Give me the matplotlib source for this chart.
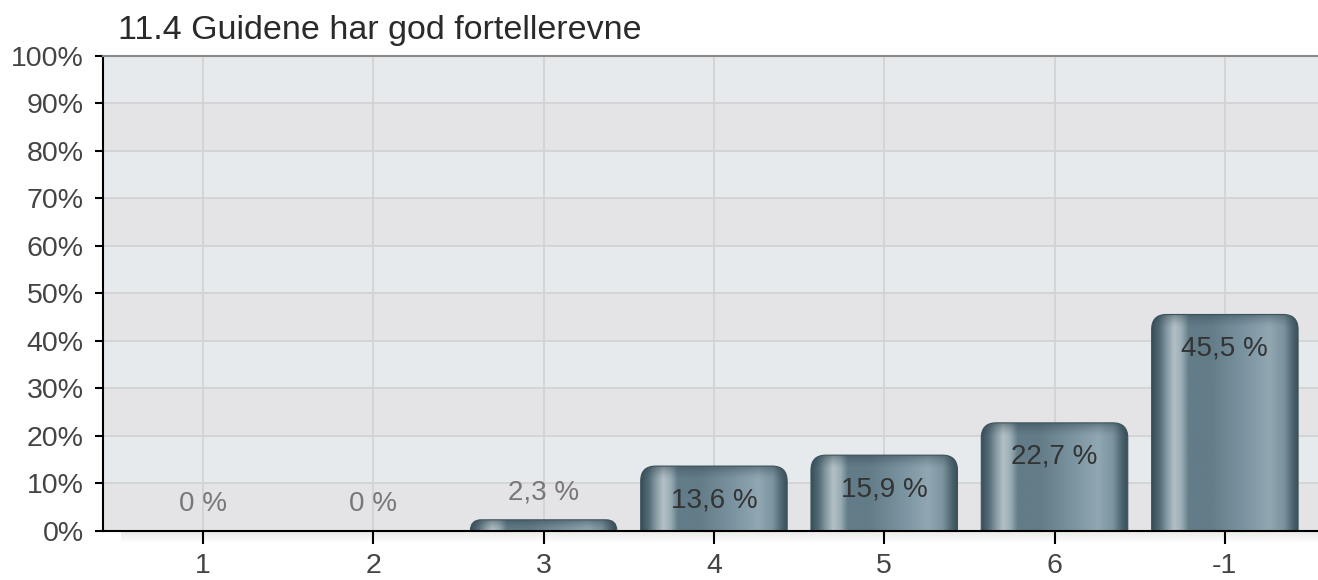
import numpy as np
import matplotlib
matplotlib.use('Agg')
import matplotlib.pyplot as plt
from matplotlib.path import Path
from matplotlib.patches import PathPatch
from matplotlib.colors import LinearSegmentedColormap, to_rgb

categories = ['1', '2', '3', '4', '5', '6', '-1']
values = [0, 0, 2.3, 13.6, 15.9, 22.7, 45.5]
value_labels = ['0 %', '0 %', '2,3 %', '13,6 %', '15,9 %', '22,7 %', '45,5 %']
title = '11.4 Guidene har god fortellerevne'
yticks = list(range(0, 101, 10))
ytick_labels = [f'{t}%' for t in yticks]

plt.rcParams['font.family'] = ['Liberation Sans', 'DejaVu Sans']

W, H = 1318, 580
fig = plt.figure(figsize=(W / 100, H / 100), dpi=100)
fig.patch.set_facecolor('white')
ax_left, ax_bottom_px, ax_top_px = 103, 530.7, 55.5
ax = fig.add_axes([ax_left / W, (H - ax_bottom_px) / H, 1 - ax_left / W,
                   (ax_bottom_px - ax_top_px) / H])

x = np.arange(len(categories))
XLIM = (-0.587, 6.547)
YLIM = (0, 100)

# alternating background bands
for i, (lo, hi) in enumerate(zip(yticks[:-1], yticks[1:])):
    ax.axhspan(lo, hi, color='#e4e4e6' if i % 2 == 0 else '#e7eaed', zorder=0, lw=0)

ax.set_axisbelow(True)
ax.grid(True, color='#d3d3d5', lw=1.3)

bars = ax.bar(x, values, width=0.86, color='none', edgecolor='none', zorder=2)

# cylinder-like gradient colormap
stops = [(0.00, '#394f58'), (0.05, '#526b76'), (0.10, '#8599a2'), (0.15, '#b4c1c6'),
         (0.20, '#9badb5'), (0.25, '#627c88'), (0.40, '#637c88'), (0.62, '#7a93a0'),
         (0.80, '#91a8b3'), (0.90, '#7b939f'), (0.96, '#4c646e'), (1.00, '#384e57')]
cmap = LinearSegmentedColormap.from_list('cyl', stops)
grad = np.linspace(0, 1, 256).reshape(1, -1)

px_per_x = (W - ax_left) / (XLIM[1] - XLIM[0])
px_per_y = (ax_bottom_px - ax_top_px) / (YLIM[1] - YLIM[0])
r_px = 15
for rect in bars:
    x0, w, h = rect.get_x(), rect.get_width(), rect.get_height()
    if h <= 0:
        continue
    ry = r_px / px_per_y
    rx = r_px / px_per_x
    if h < ry:
        rx = rx * max(0.65, h / ry)
        ry = h
    verts = [(x0, 0), (x0, h - ry), (x0, h), (x0 + rx, h), (x0 + w - rx, h),
             (x0 + w, h), (x0 + w, h - ry), (x0 + w, 0), (x0, 0)]
    codes = [Path.MOVETO, Path.LINETO, Path.CURVE3, Path.CURVE3, Path.LINETO,
             Path.CURVE3, Path.CURVE3, Path.LINETO, Path.CLOSEPOLY]
    patch = PathPatch(Path(verts, codes), facecolor='none', edgecolor='#3d535c',
                      lw=0.8, zorder=2.2)
    ax.add_patch(patch)
    im = ax.imshow(grad, cmap=cmap, extent=(x0, x0 + w, 0, h), aspect='auto',
                   interpolation='bicubic', zorder=2)
    im.set_clip_path(patch)
    # darker top cap
    cap_h = min(h, 14 / px_per_y)
    n = 64
    rgba = np.zeros((n, 1, 4))
    rgba[..., :3] = to_rgb('#2f444d')
    rgba[:, 0, 3] = np.linspace(0.6, 0.0, n) ** 1.5
    im2 = ax.imshow(rgba, extent=(x0, x0 + w, h - cap_h, h), aspect='auto',
                    interpolation='bilinear', zorder=2.1)
    im2.set_clip_path(patch)

# value labels
for xi, v, lab in zip(x, values, value_labels):
    if v >= 10:
        ax.annotate(lab, (xi, v), xytext=(0, -24.5), textcoords='offset points',
                    ha='center', va='center', fontsize=20, color='#333333', zorder=4)
    else:
        ax.annotate(lab, (xi, v), xytext=(0, 19.5), textcoords='offset points',
                    ha='center', va='center', fontsize=20, color='#777777', zorder=4)

# faint shadow under the x axis
sh = np.zeros((32, 1, 4))
sh[..., :3] = 0.75
sh[:, 0, 3] = np.linspace(0.35, 0.0, 32)
ax.imshow(sh, extent=(0.015, 1.0, -0.025, 0.0), transform=ax.transAxes,
          aspect='auto', clip_on=False, zorder=0.2)

ax.set_xlim(*XLIM)
ax.set_ylim(*YLIM)
ax.set_xticks(x, categories)
ax.set_yticks(yticks, ytick_labels)
ax.tick_params(axis='y', length=6, width=1.5, color='black', labelsize=20.5,
               pad=8, labelcolor='#444444')
ax.tick_params(axis='x', length=9, width=1.5, color='black', labelsize=20.5,
               pad=7, labelcolor='#444444')
ax.spines['right'].set_visible(False)
ax.spines['top'].set_color('#8a8a8a')
ax.spines['top'].set_linewidth(1.5)
ax.spines['left'].set_linewidth(1.5)
ax.spines['bottom'].set_linewidth(1.5)

fig.text(118 / W, 1 - 30 / H, title, fontsize=24.5, ha='left', va='center', color='#2a2a2a')

fig.savefig('out.png', dpi=100)
